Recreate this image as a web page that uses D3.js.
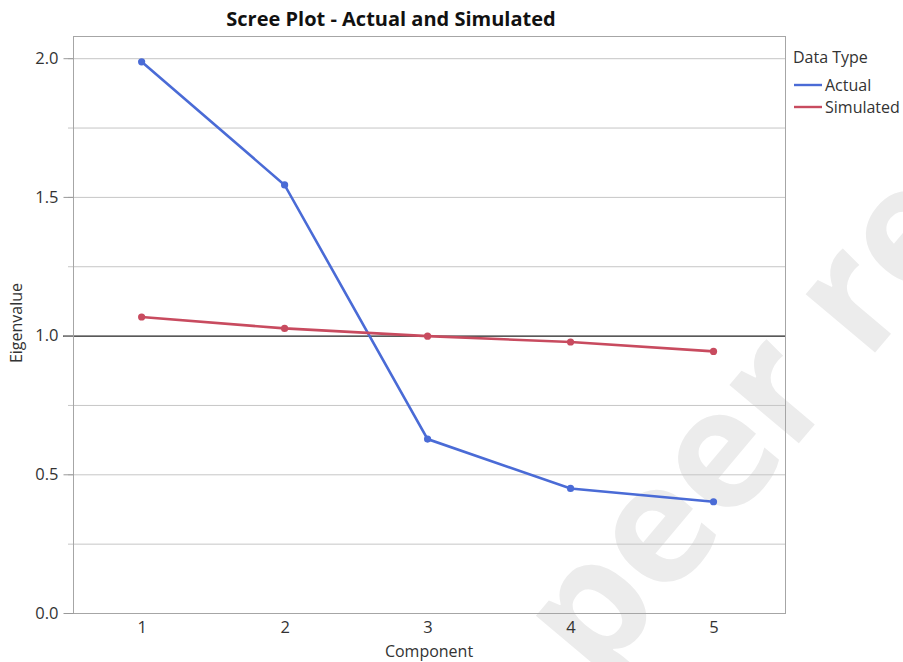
<!DOCTYPE html>
<html lang="en">
<head>
<meta charset="utf-8">
<title>Scree Plot</title>
<script src="https://cdn.jsdelivr.net/npm/d3@7"></script>
<style>
  body { margin: 0; background: #fff; }
  text { font-family: "Open Sans", "Noto Sans", sans-serif; fill: #333; }
</style>
</head>
<body>
<script>
// chart data
var components = [1, 2, 3, 4, 5];
var actual = [1.987, 1.543, 0.627, 0.449, 0.401];
var simulated = [1.067, 1.026, 0.998, 0.977, 0.943];
var yLabelTicks = [0, 0.5, 1.0, 1.5, 2.0];
var yGridTicks = [0.25, 0.5, 0.75, 1.25, 1.5, 1.75, 2.0];
var seriesNames = ["Actual", "Simulated"];
var seriesColors = ["#4a6bd6", "#c84b5f"];

var W = 903, H = 662;
var margin = {top: 36, right: 118, bottom: 49, left: 73};

var svg = d3.select("body").append("svg")
  .attr("width", W)
  .attr("height", H);

// faint watermark behind everything
svg.append("text")
  .attr("transform", "translate(597,684) rotate(-50)")
  .style("font-size", "166px")
  .style("font-weight", 700)
  .style("fill", "#ececec")
  .text("peer review");

var x = d3.scaleLinear().domain([0.52, 5.5]).range([margin.left, W - margin.right]);
var y = d3.scaleLinear().domain([0, 2.08]).range([H - margin.bottom, margin.top]);

// gridlines
svg.append("g").selectAll("line")
  .data(yGridTicks)
  .enter().append("line")
  .attr("x1", margin.left - 5)
  .attr("x2", W - margin.right)
  .attr("y1", function(d){ return y(d) + 0.5; })
  .attr("y2", function(d){ return y(d) + 0.5; })
  .attr("stroke", "#c6c6c6")
  .attr("stroke-width", 1);

// reference line at eigenvalue 1
svg.append("line")
  .attr("x1", margin.left - 10)
  .attr("x2", W - margin.right)
  .attr("y1", y(1) + 0.5)
  .attr("y2", y(1) + 0.5)
  .attr("stroke", "#222")
  .attr("stroke-width", 1.3);

// frame
svg.append("rect")
  .attr("x", margin.left + 0.5)
  .attr("y", margin.top + 0.5)
  .attr("width", W - margin.right - margin.left)
  .attr("height", H - margin.bottom - margin.top)
  .attr("fill", "none")
  .attr("stroke", "#a6a6a6");

// y axis
var yAxis = svg.append("g")
  .attr("transform", "translate(" + (margin.left + 0.5) + ",0)")
  .call(d3.axisLeft(y).tickValues(yLabelTicks).tickSize(10).tickPadding(5)
    .tickFormat(d3.format(".1f")));
yAxis.select(".domain").remove();
yAxis.selectAll(".tick line").attr("stroke", "#999");
yAxis.selectAll(".tick text")
  .style("font-size", "16.5px")
  .style("font-family", "'Open Sans', sans-serif")
  .attr("fill", "#333");

// x axis labels (no tick marks)
var xAxis = svg.append("g")
  .attr("transform", "translate(0," + (H - margin.bottom) + ")")
  .call(d3.axisBottom(x).tickValues(components).tickSize(0).tickPadding(8)
    .tickFormat(d3.format("d")));
xAxis.select(".domain").remove();
xAxis.selectAll(".tick text")
  .style("font-size", "16.5px")
  .style("font-family", "'Open Sans', sans-serif")
  .attr("fill", "#333");

// axis titles
svg.append("text")
  .attr("x", (margin.left + W - margin.right) / 2)
  .attr("y", 657)
  .attr("text-anchor", "middle")
  .style("font-size", "16px")
  .text("Component");

svg.append("text")
  .attr("transform", "translate(22,323) rotate(-90)")
  .attr("text-anchor", "middle")
  .style("font-size", "16px")
  .text("Eigenvalue");

// title
svg.append("text")
  .attr("x", 391)
  .attr("y", 26)
  .attr("text-anchor", "middle")
  .style("font-size", "20px")
  .style("font-weight", "bold")
  .style("fill", "#111")
  .text("Scree Plot - Actual and Simulated");

// series
var series = [actual, simulated];
var line = d3.line()
  .x(function(d, i){ return x(components[i]); })
  .y(function(d){ return y(d); });

series.forEach(function(vals, s){
  svg.append("path")
    .datum(vals)
    .attr("d", line)
    .attr("fill", "none")
    .attr("stroke", seriesColors[s])
    .attr("stroke-width", 2.6);
  svg.append("g").selectAll("circle")
    .data(vals)
    .enter().append("circle")
    .attr("cx", function(d, i){ return x(components[i]); })
    .attr("cy", function(d){ return y(d); })
    .attr("r", 3.6)
    .attr("fill", seriesColors[s]);
});

// legend
var legend = svg.append("g").attr("transform", "translate(793,0)");
legend.append("text")
  .attr("x", 0)
  .attr("y", 63)
  .style("font-size", "16px")
  .text("Data Type");
seriesNames.forEach(function(name, i){
  var yy = 85 + i * 22;
  legend.append("line")
    .attr("x1", 1).attr("x2", 29)
    .attr("y1", yy).attr("y2", yy)
    .attr("stroke", seriesColors[i])
    .attr("stroke-width", 2.4);
  legend.append("text")
    .attr("x", 32)
    .attr("y", yy + 6)
    .style("font-size", "16px")
    .text(name);
});
</script>
</body>
</html>
